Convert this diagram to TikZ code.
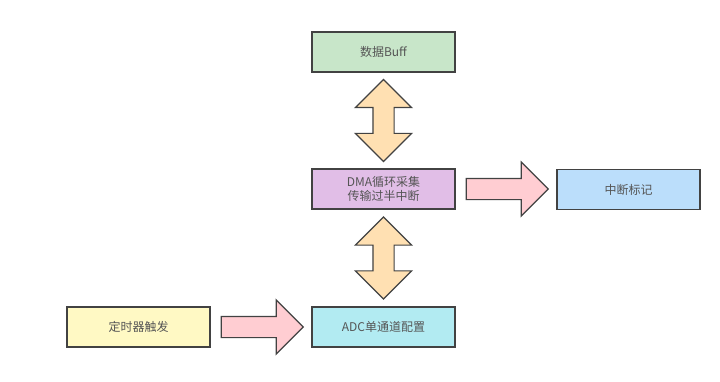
\documentclass[tikz,border=0pt]{standalone}
\usepackage{fontspec}
\newfontfamily\cjk{Noto Sans CJK SC}
\usetikzlibrary{shapes.arrows,calc}
\definecolor{edgegray}{HTML}{424242}
\definecolor{textgray}{HTML}{555555}
\definecolor{boxgreen}{HTML}{C8E6C9}
\definecolor{boxpurple}{HTML}{E1BEE7}
\definecolor{boxblue}{HTML}{BBDEFB}
\definecolor{boxyellow}{HTML}{FFF9C4}
\definecolor{boxcyan}{HTML}{B2EBF2}
\definecolor{arrowpink}{HTML}{FFCDD2}
\definecolor{arroworange}{HTML}{FFE0B2}

\begin{document}
\begin{tikzpicture}[x=1pt,y=-1pt,
  box/.style={draw=edgegray,line width=1.3pt,minimum width=143pt,minimum height=40pt,inner sep=0pt,
    align=center,text=textgray,font=\cjk\fontsize{12}{13.5}\selectfont},
  pusharrow/.style={single arrow,draw=edgegray,line width=1.2pt,fill=arrowpink,inner xsep=0pt,inner ysep=10pt,
    single arrow head extend=16.5pt,single arrow tip angle=90,minimum height=82pt,anchor=tail},
  busarrow/.style={double arrow,draw=edgegray,line width=1.2pt,fill=arroworange,inner xsep=0pt,inner ysep=10pt,
    double arrow head extend=17.5pt,double arrow tip angle=90,minimum height=82pt,sloped}]
\useasboundingbox (0,0) rectangle (720,382);
\fill[white] (0,0) rectangle (720,382);

\node[box,fill=boxgreen] (buff) at (383.5,52) {数据Buff};
\node[box,fill=boxpurple] (dma) at (383.5,189) {DMA循环采集\\传输过半中断};
\node[box,fill=boxblue] (flag) at (628.5,189.5) {中断标记};
\node[box,fill=boxyellow] (timer) at (138.5,327) {定时器触发};
\node[box,fill=boxcyan] (adc) at (383.5,327) {ADC单通道配置};

% block arrows between the boxes
\path (buff.south) -- (dma.north) node[midway,busarrow] {};
\path (dma.south) -- (adc.north) node[midway,busarrow] {};
\node[pusharrow] at ($(dma.east)!10pt!(flag.west)$) {};
\node[pusharrow] at ($(timer.east)!10pt!(adc.west)$) {};
\end{tikzpicture}
\end{document}
